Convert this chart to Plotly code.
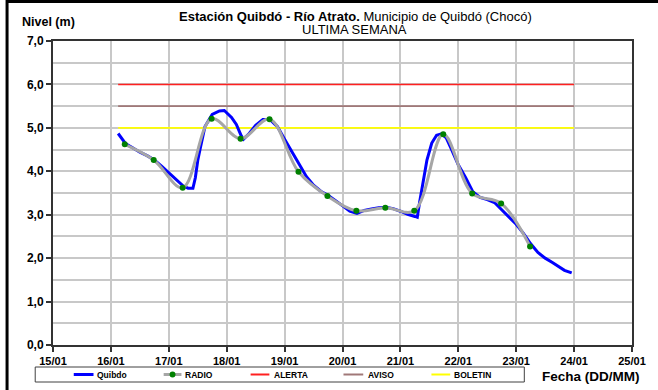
import plotly.graph_objects as go

# ---- data -------------------------------------------------------------
quibdo_time = [
    "2014-01-16 03:00", "2014-01-16 06:00", "2014-01-16 09:00", "2014-01-16 12:00",
    "2014-01-16 15:00", "2014-01-16 18:00", "2014-01-16 21:00", "2014-01-17 00:00",
    "2014-01-17 03:00", "2014-01-17 06:00", "2014-01-17 08:00", "2014-01-17 10:00",
    "2014-01-17 11:00", "2014-01-17 12:00", "2014-01-17 13:00", "2014-01-17 15:00",
    "2014-01-17 18:00", "2014-01-17 21:00", "2014-01-17 23:00", "2014-01-18 02:00",
    "2014-01-18 04:00", "2014-01-18 06:00", "2014-01-18 07:00", "2014-01-18 09:00",
    "2014-01-18 12:00", "2014-01-18 15:00", "2014-01-18 18:00", "2014-01-18 21:00",
    "2014-01-19 00:00", "2014-01-19 03:00", "2014-01-19 06:00", "2014-01-19 09:00",
    "2014-01-19 12:00", "2014-01-19 15:00", "2014-01-19 18:00", "2014-01-19 21:00",
    "2014-01-20 00:00", "2014-01-20 03:00", "2014-01-20 06:00", "2014-01-20 09:00",
    "2014-01-20 12:00", "2014-01-20 15:00", "2014-01-20 18:00", "2014-01-20 21:00",
    "2014-01-21 00:00", "2014-01-21 03:00", "2014-01-21 06:00", "2014-01-21 07:00",
    "2014-01-21 08:00", "2014-01-21 10:00", "2014-01-21 11:00", "2014-01-21 13:00",
    "2014-01-21 15:00", "2014-01-21 17:00", "2014-01-21 19:00", "2014-01-21 21:00",
    "2014-01-22 00:00", "2014-01-22 03:00", "2014-01-22 06:00", "2014-01-22 09:00",
    "2014-01-22 12:00", "2014-01-22 15:00", "2014-01-22 18:00", "2014-01-22 21:00",
    "2014-01-23 00:00", "2014-01-23 03:00", "2014-01-23 06:00", "2014-01-23 09:00",
    "2014-01-23 12:00", "2014-01-23 15:00", "2014-01-23 18:00", "2014-01-23 20:00",
    "2014-01-23 23:00",
]
quibdo_level = [
    4.87, 4.64, 4.54, 4.44,
    4.36, 4.26, 4.12, 3.96,
    3.80, 3.66, 3.61, 3.61,
    3.85, 4.25, 4.52, 5.03,
    5.31, 5.39, 5.40, 5.24,
    5.08, 4.82, 4.74, 4.85,
    5.06, 5.19, 5.19, 5.03,
    4.74, 4.44, 4.17, 3.88,
    3.68, 3.54, 3.45, 3.33,
    3.20, 3.08, 3.03, 3.10,
    3.13, 3.16, 3.17, 3.14,
    3.08, 3.01, 2.96, 2.94,
    3.30, 3.90, 4.26, 4.65,
    4.83, 4.86, 4.77, 4.53,
    4.15, 3.86, 3.53, 3.40,
    3.35, 3.28, 3.12, 2.96,
    2.78, 2.57, 2.33, 2.13,
    2.00, 1.90, 1.78, 1.72,
    1.66,
]

radio_time = [
    "2014-01-16 05:45", "2014-01-16 17:45", "2014-01-17 05:45", "2014-01-17 17:45",
    "2014-01-18 05:45", "2014-01-18 17:45", "2014-01-19 05:45", "2014-01-19 17:45",
    "2014-01-20 05:45", "2014-01-20 17:45", "2014-01-21 05:45", "2014-01-21 17:45",
    "2014-01-22 05:45", "2014-01-22 17:45", "2014-01-23 05:45",
]
radio_level = [
    4.62, 4.26, 3.62, 5.21,
    4.75, 5.20, 3.99, 3.43,
    3.09, 3.16, 3.09, 4.85,
    3.49, 3.26, 2.27,
]

threshold_time = ["2014-01-16 03:00", "2014-01-24 00:00"]
alerta_level = 6.0
aviso_level = 5.5
boletin_level = 5.0

x_range = ["2014-01-15", "2014-01-25"]
y_range = [0, 7]

# ---- styling ------------------------------------------------------------
FONT = "Liberation Sans, Arial, sans-serif"
C_QUIBDO = "#0000FF"
C_RADIO = "#A6A6A6"
C_RADIO_PT = "#008000"
C_ALERTA = "#FF2020"
C_AVISO = "#A07878"
C_BOLETIN = "#FFFF00"
GRID = "#C8C8C8"
AXIS = "#333333"

W, H = 658, 390
L, R, T, B = 53, 19, 41, 45
PW, PH = W - L - R, H - T - B


def px(x):
    return (x - L) / PW


def py(y):
    return (H - B - y) / PH


fig = go.Figure()

for lvl, col in [(alerta_level, C_ALERTA), (aviso_level, C_AVISO), (boletin_level, C_BOLETIN)]:
    fig.add_trace(go.Scatter(
        x=threshold_time, y=[lvl, lvl], mode="lines",
        line=dict(color=col, width=1.6), showlegend=False, hoverinfo="skip",
    ))

fig.add_trace(go.Scatter(
    x=quibdo_time, y=quibdo_level, mode="lines", name="Quibdo",
    line=dict(color=C_QUIBDO, width=3), showlegend=False,
))

fig.add_trace(go.Scatter(
    x=radio_time, y=radio_level, mode="lines+markers", name="RADIO",
    line=dict(color=C_RADIO, width=3, shape="spline", smoothing=1.0),
    marker=dict(color=C_RADIO_PT, size=6), showlegend=False,
))

# ---- annotations and frame ------------------------------------------------
ann = []
ann.append(dict(
    x=px(359), y=py(16), xref="paper", yref="paper", showarrow=False,
    xanchor="center", yanchor="middle",
    text="<b>Estación Quibdó - Río Atrato.</b> Municipio de Quibdó (Chocó)",
    font=dict(family=FONT, size=13, color="black"),
))
ann.append(dict(
    x=px(358), y=py(29.5), xref="paper", yref="paper", showarrow=False,
    xanchor="center", yanchor="middle", text="ULTIMA SEMANA",
    font=dict(family=FONT, size=13, color="black"),
))
ann.append(dict(
    x=px(20), y=py(22), xref="paper", yref="paper", showarrow=False,
    xanchor="left", yanchor="middle", text="<b>Nivel (m)</b>",
    font=dict(family=FONT, size=12.5, color="black"),
))
ann.append(dict(
    x=px(546), y=py(376.5), xref="paper", yref="paper", showarrow=False,
    xanchor="left", yanchor="middle", text="<b>Fecha (DD/MM)</b>",
    font=dict(family=FONT, size=13.5, color="black"),
))

shapes = []
# outer chart frame
shapes.append(dict(type="rect", xref="paper", yref="paper",
                   x0=px(6.5), x1=px(720), y0=py(1.5), y1=py(460),
                   line=dict(color="black", width=3), fillcolor="rgba(0,0,0,0)"))
# legend box
shapes.append(dict(type="rect", xref="paper", yref="paper",
                   x0=px(35), x1=px(530), y0=py(367), y1=py(382),
                   line=dict(color="#404040", width=1), fillcolor="white"))

ly = 374.5
legend_items = [
    ("Quibdo", C_QUIBDO, 3, 74, 94, 96, False),
    ("RADIO", C_RADIO, 3, 165, 183, 185, True),
    ("ALERTA", C_ALERTA, 2, 253, 272, 275, False),
    ("AVISO", C_AVISO, 2, 347, 367, 370, False),
    ("BOLETIN", C_BOLETIN, 2, 436, 455, 457, False),
]
for label, col, lw, x0, x1, xt, dot in legend_items:
    shapes.append(dict(type="line", xref="paper", yref="paper",
                       x0=px(x0), x1=px(x1), y0=py(ly), y1=py(ly),
                       line=dict(color=col, width=lw)))
    if dot:
        cx = (x0 + x1) / 2
        shapes.append(dict(type="circle", xref="paper", yref="paper",
                           x0=px(cx - 3), x1=px(cx + 3), y0=py(ly - 3), y1=py(ly + 3),
                           line=dict(width=0), fillcolor=C_RADIO_PT))
    ann.append(dict(
        x=px(xt), y=py(ly), xref="paper", yref="paper", showarrow=False,
        xanchor="left", yanchor="middle", text="<b>%s</b>" % label,
        font=dict(family=FONT, size=8.5, color="black"),
    ))

fig.update_layout(
    width=W, height=H,
    margin=dict(l=L, r=R, t=T, b=B, pad=0),
    paper_bgcolor="white", plot_bgcolor="white",
    separators=",.",
    showlegend=False,
    annotations=ann,
    shapes=shapes,
    font=dict(family=FONT, color="black"),
)

fig.update_xaxes(
    type="date", range=x_range,
    tick0="2014-01-15", dtick=86400000, tickformat="%d/%m",
    showgrid=True, gridcolor=GRID, gridwidth=1.5,
    showline=True, linecolor=AXIS, linewidth=2, mirror=True,
    ticks="outside", ticklen=5, tickwidth=1.5, tickcolor=AXIS,
    tickfont=dict(family=FONT, size=11, color="black", weight="bold"),
    zeroline=False,
)
fig.update_yaxes(
    range=y_range, tick0=0, dtick=1, tickformat=".1f",
    showgrid=True, gridcolor=GRID, gridwidth=1.5,
    minor=dict(dtick=0.5, showgrid=True, gridcolor=GRID, gridwidth=1.5, ticks=""),
    showline=True, linecolor=AXIS, linewidth=2, mirror=True,
    ticks="outside", ticklen=5, tickwidth=1.5, tickcolor=AXIS,
    tickfont=dict(family=FONT, size=12, color="black", weight="bold"),
    zeroline=False,
)

fig.write_html("out.html")
